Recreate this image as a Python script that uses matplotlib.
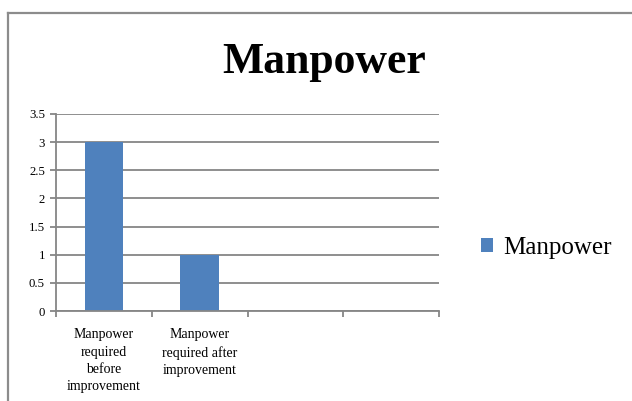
#!/usr/bin/env python3
# -*- coding: utf-8 -*-

import numpy as np
import matplotlib
matplotlib.use('Agg')
import matplotlib.pyplot as plt
from matplotlib.lines import Line2D
from matplotlib.patches import Patch

# chart data
categories = ["Manpower\nrequired\nbefore\nimprovement",
              "Manpower\nrequired after\nimprovement"]
values = [3, 1]
n_slots = 4
series_name = "Manpower"
yticks = [0, 0.5, 1, 1.5, 2, 2.5, 3, 3.5]

BAR = '#4F81BD'
GREY = '#868686'
SERIF = ['Liberation Serif', 'DejaVu Serif']


def main():
    fig = plt.figure(figsize=(6.32, 4.01), dpi=100)
    ax = fig.add_axes([56 / 632, 1 - 311 / 401, (439 - 56) / 632, (311 - 114) / 401])

    x = np.arange(len(values))
    ax.bar(x, values, width=0.4, color=BAR, zorder=3)

    ax.set_xlim(-0.5, n_slots - 0.5)
    ax.set_ylim(0, 3.5)
    ax.set_yticks(yticks)
    ax.set_yticklabels([f"{t:g}" for t in yticks], fontsize=9.2, family=SERIF)
    ax.yaxis.grid(True, color=GREY, linewidth=1.3, zorder=0)

    # category boundaries as major ticks, labels centred on minor ticks
    ax.set_xticks(np.arange(n_slots + 1) - 0.5)
    ax.set_xticklabels([])
    ax.set_xticks(x, minor=True)
    ax.set_xticklabels(categories, minor=True, fontsize=10, family=SERIF,
                       linespacing=1.42, va='top', ha='center')
    ax.tick_params(axis='x', which='minor', length=0, pad=12.5)
    ax.tick_params(axis='x', which='major', length=4, width=1.3, color=GREY, direction='out')
    ax.tick_params(axis='y', length=4, width=1.3, color=GREY, pad=4)

    for s in ('top', 'right'):
        ax.spines[s].set_visible(False)
    for s in ('left', 'bottom'):
        ax.spines[s].set_color(GREY)
        ax.spines[s].set_linewidth(1.3)
        ax.spines[s].set_zorder(4)

    fig.text(324 / 632, 1 - 73 / 401, "Manpower", ha='center', va='baseline',
             fontsize=31.5, fontweight='bold', family=SERIF)

    handle = Patch(facecolor=BAR, edgecolor='none')
    fig.legend([handle], [series_name], loc='center left',
               bbox_to_anchor=(481 / 632, 1 - 248 / 401), frameon=False,
               prop={'family': SERIF, 'size': 18}, handlelength=0.48,
               handleheight=0.48, handletextpad=0.4, borderpad=0, borderaxespad=0)

    # outer chart frame (only top and left edges visible)
    fig.add_artist(Line2D([8 / 632, 1], [1 - 13 / 401, 1 - 13 / 401],
                          transform=fig.transFigure, color='#8c8c8c', linewidth=1.6))
    fig.add_artist(Line2D([8 / 632, 8 / 632], [0, 1 - 13 / 401],
                          transform=fig.transFigure, color='#8c8c8c', linewidth=1.6))

    fig.savefig('out.png', dpi=100)


if __name__ == '__main__':
    main()
